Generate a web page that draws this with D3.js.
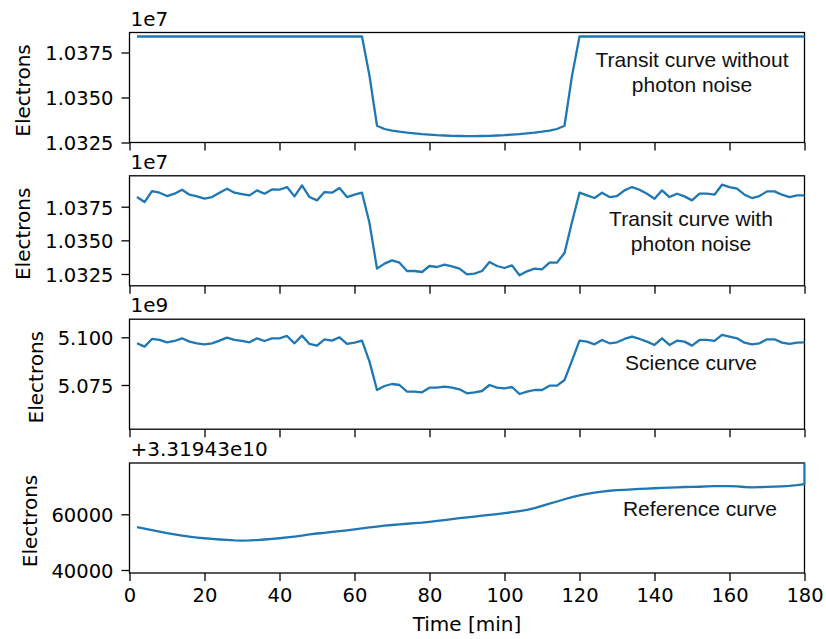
<!DOCTYPE html>
<html><head><meta charset="utf-8">
<script src="https://cdn.jsdelivr.net/npm/d3@7"></script>
<style>body{margin:0;background:#fff} svg{display:block}</style>
</head><body><svg id="c" width="826" height="639"></svg>
<script>
// ---------------- data ----------------
const times = [2,4,6,8,10,12,14,16,18,20,22,24,26,28,30,32,34,36,38,40,42,44,46,48,50,52,54,56,58,60,
  62,64,66,68,70,72,74,76,78,80,82,84,86,88,90,92,94,96,98,100,102,104,106,108,110,112,114,116,118,120,
  122,124,126,128,130,132,134,136,138,140,142,144,146,148,150,152,154,156,158,160,162,164,166,168,170,172,174,176,178,180];

const transitClean = [
  10383900,10383900,10383900,10383900,10383900,10383900,10383900,10383900,10383900,10383900,
  10383900,10383900,10383900,10383900,10383900,10383900,10383900,10383900,10383900,10383900,
  10383900,10383900,10383900,10383900,10383900,10383900,10383900,10383900,10383900,10383900,
  10383900,10362000,10334300,10332500,10331600,10331000,10330500,10330100,10329700,10329400,
  10329100,10328900,10328700,10328600,10328500,10328500,10328600,10328700,10328900,10329100,
  10329400,10329700,10330100,10330500,10331000,10331600,10332500,10334300,10362000,10383900,
  10383900,10383900,10383900,10383900,10383900,10383900,10383900,10383900,10383900,10383900,
  10383900,10383900,10383900,10383900,10383900,10383900,10383900,10383900,10383900,10383900,
  10383900,10383900,10383900,10383900,10383900,10383900,10383900,10383900,10383900,10383900];

const transitNoisy = [
  10382180,10378470,10386630,10385400,10382920,10384650,10387620,10383910,10382670,10380940,
  10382180,10385400,10388370,10385400,10384410,10383420,10387130,10384650,10387870,10387620,
  10389600,10382670,10390840,10382180,10379700,10385890,10385400,10388860,10382180,10383910,
  10385400,10362870,10328970,10332680,10335150,10333420,10327230,10327230,10326490,10330950,
  10330200,10331940,10330700,10328970,10324760,10325250,10327230,10333920,10330950,10329460,
  10331440,10324020,10326990,10328970,10328470,10333420,10333420,10340600,10363620,10385400,
  10383420,10381440,10385400,10382180,10382920,10387130,10389600,10387620,10384650,10380940,
  10387130,10382180,10384650,10382670,10379700,10384650,10384650,10383910,10391340,10389600,
  10388370,10383910,10381440,10382920,10386390,10386390,10383910,10382180,10383420,10383420];

const science = [
  5096853000,5095105000,5099126000,5098601000,5097378000,5098077000,5099476000,5097727000,5096853000,5096329000,
  5096853000,5098252000,5099825000,5098601000,5098077000,5097378000,5099476000,5098077000,5099476000,5099476000,
  5100699000,5096853000,5100874000,5096504000,5095629000,5098951000,5098252000,5100000000,5096504000,5097203000,
  5098252000,5087238000,5072378000,5074476000,5075524000,5075000000,5071503000,5071503000,5071154000,5073601000,
  5073601000,5074126000,5073601000,5072727000,5070629000,5071154000,5071853000,5075000000,5073601000,5073252000,
  5073951000,5070280000,5071503000,5072378000,5072378000,5074650000,5074650000,5077622000,5087762000,5098252000,
  5097727000,5096329000,5098601000,5096853000,5097378000,5099126000,5100350000,5099126000,5097727000,5095979000,
  5099476000,5095979000,5098252000,5097727000,5095629000,5098601000,5098601000,5098077000,5101224000,5100350000,
  5099476000,5097203000,5096329000,5096853000,5098951000,5098951000,5097203000,5096504000,5097203000,5097378000];

const referenceOffset = 3.31943e10;
// reference curve, electrons above the offset
const reference = [
  55400,54850,54300,53750,53200,52750,52350,51950,51650,51400,
  51150,50950,50780,50620,50550,50600,50750,50950,51150,51400,
  51700,52000,52350,52750,53100,53350,53650,53950,54250,54600,
  54950,55300,55600,55900,56150,56400,56600,56800,57000,57300,
  57600,57900,58250,58600,58900,59200,59500,59800,60100,60400,
  60750,61150,61600,62250,63000,63800,64600,65400,66150,66800,
  67350,67800,68150,68450,68650,68800,68950,69100,69250,69350,
  69500,69600,69700,69800,69850,69900,70000,70100,70150,70150,
  70050,69800,69700,69750,69850,69950,70050,70200,70450,70850];
const referenceEndTime = 180;
const referenceEndValue = 78400;

const xTicks = [0,20,40,60,80,100,120,140,160,180];
const yTicksTransit = [10325000,10350000,10375000];
const yTicksScience = [5075000000,5100000000];
const yTicksReference = [40000,60000];

const yLabel = "Electrons";
const xLabel = "Time [min]";

// ---------------- layout ----------------
const svg = d3.select("#c");
const X0 = 129.5, X1 = 804.5, H = 110;
const x = d3.scaleLinear().domain([0,180]).range([X0,X1]);
const tickFont = "'DejaVu Sans', sans-serif";
const annFont = "'Liberation Sans', Arial, sans-serif";
const blue = "#1f77b4";

const panels = [
  {top:32.5, domain:[10325000,10386111], ticks:yTicksTransit, fmt:v=>(v/1e7).toFixed(4), offset:"1e7",
   values:transitClean, t:times, labelX:30, ann:["Transit curve without","photon noise"], annX:692, annY:67},
  {top:175.8, domain:[10316230,10397960], ticks:yTicksTransit, fmt:v=>(v/1e7).toFixed(4), offset:"1e7",
   values:transitNoisy, t:times, labelX:30, ann:["Transit curve with","photon noise"], annX:691, annY:226},
  {top:319.2, domain:[5051834000,5109486000], ticks:yTicksScience, fmt:v=>(v/1e9).toFixed(3), offset:"1e9",
   values:science, t:times, labelX:43, ann:["Science curve"], annX:691, annY:370},
  {top:463, domain:[38920,78420], ticks:yTicksReference, fmt:v=>String(v), offset:"+3.31943e10",
   values:reference.concat([referenceEndValue]), t:times.concat([referenceEndTime]), labelX:37, ann:["Reference curve"], annX:700, annY:516}
];

panels.forEach((p,i)=>{
  const y = d3.scaleLinear().domain(p.domain).range([p.top+H, p.top]);
  const g = svg.append("g");
  const cid = "clip"+i;
  svg.append("defs").append("clipPath").attr("id",cid)
    .append("rect").attr("x",X0).attr("y",p.top).attr("width",X1-X0+1.2).attr("height",H);

  // frame
  g.append("rect").attr("x",X0).attr("y",p.top).attr("width",X1-X0).attr("height",H)
    .attr("fill","none").attr("stroke","#000").attr("stroke-width",1.3);

  // line
  const line = d3.line().x((d,k)=>x(p.t[k])).y(d=>y(d));
  g.append("path").datum(p.values)
    .attr("d",line).attr("fill","none").attr("stroke",blue)
    .attr("stroke-width",2.3).attr("stroke-linejoin","round")
    .attr("clip-path",`url(#${cid})`);

  // y axis
  const ya = g.append("g").attr("transform",`translate(${X0},0)`)
    .call(d3.axisLeft(y).tickValues(p.ticks).tickFormat(p.fmt).tickSize(8).tickPadding(8));
  ya.select(".domain").remove();
  ya.selectAll(".tick line").attr("stroke","#000").attr("stroke-width",1.3);
  ya.selectAll(".tick text").attr("font-family",tickFont).attr("font-size","19.5px")
    .attr("fill","#000").attr("dy","0.38em");

  // x axis
  const xa = g.append("g").attr("transform",`translate(0,${p.top+H})`)
    .call(d3.axisBottom(x).tickValues(xTicks).tickSize(8).tickPadding(7)
      .tickFormat(i===3 ? d3.format("d") : ()=>""));
  xa.select(".domain").remove();
  xa.selectAll(".tick line").attr("stroke","#000").attr("stroke-width",1.3);
  xa.selectAll(".tick text").attr("font-family",tickFont).attr("font-size","19.5px").attr("fill","#000");

  // offset text
  g.append("text").attr("x",X0+1).attr("y",p.top-7).text(p.offset)
    .attr("font-family",tickFont).attr("font-size","20px").attr("fill","#000");

  // y label
  const cy = p.top+H/2+3;
  g.append("text").attr("x",p.labelX).attr("y",cy)
    .attr("transform",`rotate(-90,${p.labelX},${cy})`)
    .attr("text-anchor","middle").text(yLabel)
    .attr("font-family",tickFont).attr("font-size","20px").attr("fill","#000");

  // annotation
  p.ann.forEach((s,k)=>{
    g.append("text").attr("x",p.annX).attr("y",p.annY+k*25).attr("text-anchor","middle")
      .text(s).attr("font-family",annFont).attr("font-size","21px").attr("fill","#111");
  });
});

svg.append("text").attr("x",(X0+X1)/2).attr("y",631).attr("text-anchor","middle")
  .text(xLabel).attr("font-family",tickFont).attr("font-size","20px").attr("fill","#000");
</script></body></html>
